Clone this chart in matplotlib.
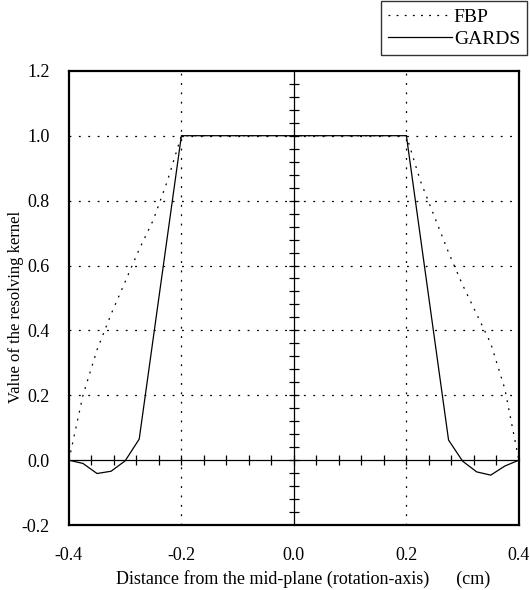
import numpy as np
import matplotlib
matplotlib.use("Agg")
import matplotlib.pyplot as plt

plt.rcParams['font.family'] = ['Liberation Serif', 'DejaVu Serif']

# FBP kernel (dotted curve)
fbp_x = [-0.4, -0.375, -0.35, -0.325, -0.3, -0.275, -0.25, -0.225, -0.2,
         0.2, 0.225, 0.25, 0.275, 0.3, 0.325, 0.35, 0.375, 0.4]
fbp_y = [0.0, 0.2, 0.34, 0.45, 0.55, 0.65, 0.74, 0.86, 1.0,
         1.0, 0.86, 0.75, 0.64, 0.54, 0.45, 0.36, 0.22, 0.0]

# GARDS kernel (solid curve)
gards_x = [-0.4, -0.375, -0.35, -0.325, -0.3, -0.275, -0.2,
           0.2, 0.275, 0.3, 0.325, 0.35, 0.375, 0.4]
gards_y = [0.0, -0.01, -0.041, -0.034, -0.002, 0.065, 1.0,
           1.0, 0.062, -0.003, -0.036, -0.046, -0.018, 0.0]

xticks = [-0.4, -0.2, 0.0, 0.2, 0.4]
yticks = [-0.2, 0.0, 0.2, 0.4, 0.6, 0.8, 1.0, 1.2]

fig = plt.figure(figsize=(5.3, 5.9), dpi=100)
pos = [0.130, 0.110, 0.849, 0.770]
ax = fig.add_axes(pos)

ax.set_xlim(-0.4, 0.4)
ax.set_ylim(-0.2, 1.2)
ax.set_xticks(xticks)
ax.set_yticks(yticks)
ax.set_xticklabels([f"{v:.1f}" for v in xticks])
ax.set_yticklabels([f"{v:.1f}" for v in yticks])
ax.tick_params(length=0, labelsize=13)
ax.tick_params(axis='x', pad=16)
ax.tick_params(axis='y', pad=14)
for s in ax.spines.values():
    s.set_linewidth(1.6)

# dotted grid: horizontal at 0.2..1.0, vertical at +-0.2
for yv in [0.2, 0.4, 0.6, 0.8, 1.0]:
    ax.axhline(yv, color='black', lw=0.9, ls=(0, (1.5, 6)), zorder=1)
for xv in [-0.2, 0.2]:
    ax.axvline(xv, color='black', lw=0.9, ls=(0, (1.5, 6)), zorder=1)

l1, = ax.plot(fbp_x, fbp_y, color='black', lw=0.9, ls=(0, (1.5, 5)), label='FBP')
l2, = ax.plot(gards_x, gards_y, color='black', lw=0.9, label='GARDS')

ax.set_xlabel("Distance from the mid-plane (rotation-axis)      (cm)", fontsize=13)
ax.xaxis.set_label_coords(0.52, -0.098)
ax.set_ylabel("Value of the resolving kernel", fontsize=12)
ax.yaxis.set_label_coords(-0.10, 0.48)

# crossing axes through the origin with small ticks
ax2 = fig.add_axes(pos)
ax2.set_xlim(-0.4, 0.4)
ax2.set_ylim(-0.2, 1.2)
ax2.patch.set_visible(False)
ax2.spines['top'].set_visible(False)
ax2.spines['right'].set_visible(False)
ax2.spines['left'].set_position(('data', 0))
ax2.spines['bottom'].set_position(('data', 0))
ax2.spines['left'].set_linewidth(0.9)
ax2.spines['bottom'].set_linewidth(0.9)
ax2.set_xticks(np.round(np.arange(-0.36, 0.37, 0.04), 2))
ax2.set_yticks(np.round(np.arange(-0.16, 1.17, 0.04), 2))
ax2.tick_params(direction='inout', length=7, width=0.9, labelleft=False, labelbottom=False)

leg = fig.legend(handles=[l1, l2], loc='upper right', bbox_to_anchor=(0.994, 0.998),
                 borderaxespad=0, fontsize=14, frameon=True, fancybox=False,
                 edgecolor='black', handlelength=3.3, handletextpad=0.1,
                 borderpad=0.35, labelspacing=0.25)
leg.get_frame().set_linewidth(1.0)

plt.savefig("out.png", dpi=100)
